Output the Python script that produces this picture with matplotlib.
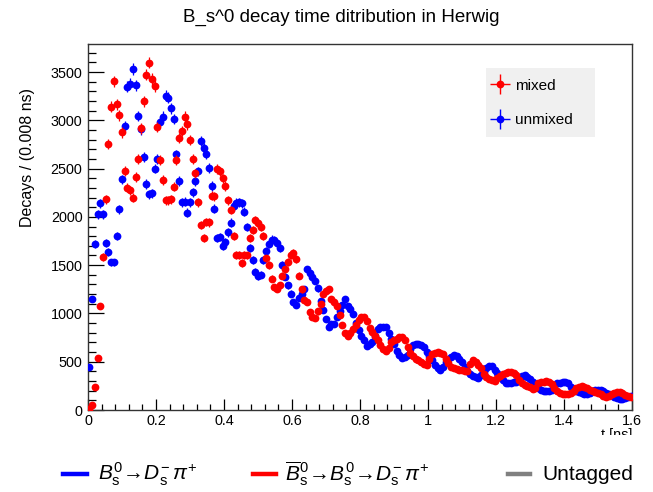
import numpy as np
import matplotlib
matplotlib.use("Agg")
import matplotlib.pyplot as plt
from matplotlib.lines import Line2D
from matplotlib.patches import Rectangle
from matplotlib.legend_handler import HandlerErrorbar

plt.rcParams['font.family'] = ['Liberation Sans', 'DejaVu Sans']
plt.rcParams['mathtext.fontset'] = 'custom'
plt.rcParams['mathtext.rm'] = 'Liberation Sans'
plt.rcParams['mathtext.it'] = 'Liberation Sans:italic'
plt.rcParams['mathtext.bf'] = 'Liberation Sans:bold'

# ---- data: decays per 0.008 ns bin, 200 bins from 0 to 1.6 ns ----
bin_width = 0.008
n_bins = 200

unmixed = [
    448, 1149, 1715, 2025, 2139, 2025, 1725, 1632, 1529, 1529,
    1804, 2077, 2388, 2942, 3346, 3380, 3529, 3364, 3043, 2905,
    2622, 2339, 2236, 2243, 2500, 2600, 2984, 3036, 3253, 3233,
    3125, 3015, 2646, 2370, 2150, 2156, 2042, 2150, 2255, 2370,
    2470, 2784, 2709, 2650, 2508, 2320, 2085, 1777, 1790, 1697,
    1740, 1839, 1939, 2111, 2146, 2150, 2140, 2052, 1897, 1673,
    1552, 1431, 1387, 1400, 1552, 1645, 1720, 1765, 1760, 1725,
    1680, 1500, 1380, 1290, 1205, 1121, 1090, 1160, 1200, 1250,
    1456, 1415, 1375, 1340, 1260, 1125, 1040, 940, 862, 888,
    895, 966, 1030, 1090, 1146, 1080, 1045, 990, 900, 828,
    770, 720, 662, 683, 707, 770, 835, 856, 862, 855,
    800, 740, 680, 610, 569, 535, 550, 570, 635, 670,
    688, 685, 670, 650, 605, 560, 520, 470, 440, 414,
    450, 500, 530, 552, 565, 560, 530, 495, 448, 405,
    372, 350, 338, 330, 360, 395, 430, 460, 455, 410,
    380, 350, 310, 278, 280, 283, 285, 288, 330, 350,
    360, 340, 322, 290, 255, 225, 210, 200, 192, 195,
    210, 250, 276, 282, 285, 292, 276, 240, 220, 200,
    185, 175, 170, 166, 180, 200, 207, 212, 210, 200,
    180, 165, 155, 135, 120, 113, 112, 125, 138, 150,
]

mixed = [
    15, 50, 241, 535, 1080, 1587, 2184, 2750, 3139, 3405,
    3164, 3053, 2874, 2474, 2301, 2277, 2197, 2415, 2598, 2916,
    3198, 3474, 3598, 3426, 3356, 2932, 2588, 2381, 2170, 2170,
    2180, 2311, 2588, 2819, 2888, 3036, 2957, 2795, 2598, 2450,
    2150, 1915, 1777, 1949, 1943, 2220, 2215, 2495, 2470, 2400,
    2320, 2174, 2070, 1800, 1604, 1604, 1520, 1604, 1600, 1777,
    1865, 1967, 1932, 1897, 1800, 1570, 1501, 1360, 1270, 1255,
    1294, 1390, 1456, 1530, 1604, 1628, 1560, 1390, 1250, 1140,
    1121, 1010, 960, 949, 1020, 1100, 1200, 1235, 1249, 1150,
    1115, 1075, 983, 880, 794, 765, 800, 840, 880, 931,
    960, 962, 920, 850, 810, 770, 720, 670, 630, 610,
    640, 700, 725, 740, 755, 760, 720, 650, 590, 560,
    530, 515, 495, 480, 470, 530, 575, 595, 605, 595,
    575, 530, 490, 450, 432, 422, 415, 410, 405, 400,
    480, 520, 500, 465, 430, 370, 340, 318, 308, 305,
    330, 355, 372, 380, 390, 390, 380, 358, 311, 275,
    255, 245, 235, 218, 230, 276, 288, 295, 300, 290,
    265, 224, 195, 175, 170, 166, 168, 180, 192, 225,
    241, 246, 240, 224, 210, 198, 190, 180, 165, 145,
    138, 150, 165, 180, 188, 185, 172, 160, 150, 135,
]

series_labels = ["mixed", "unmixed"]
series_colors = ["#ff0000", "#0000ff"]
title = "B_s^0 decay time ditribution in Herwig"
ylabel = "Decays / (0.008 ns)"
xlabel = "t [ns]"
bottom_labels = [r"$B^{0}_{\mathrm{s}}\!\rightarrow\! D^{-}_{\mathrm{s}}\,\pi^{+}$",
                 r"$\overline{B}^{0}_{\mathrm{s}}\!\rightarrow\! B^{0}_{\mathrm{s}}\!\rightarrow\! D^{-}_{\mathrm{s}}\,\pi^{+}$",
                 "Untagged"]
bottom_colors = ["#0000ff", "#ff0000", "#808080"]

# ---- figure ----
W, H = 653, 492
fig = plt.figure(figsize=(W / 100, H / 100), dpi=100)
L, R, T, B = 88, 632, 44, 410
ax = fig.add_axes([L / W, 1 - B / H, (R - L) / W, (B - T) / H])

t = (np.arange(n_bins) + 0.5) * bin_width
u = np.array(unmixed, dtype=float)
m = np.array(mixed, dtype=float)

ax.errorbar(t, u, yerr=np.sqrt(u), xerr=bin_width / 2, fmt='o', color=series_colors[1],
            ms=5.6, mew=0, elinewidth=0.9, capsize=1.2, capthick=0.9, zorder=3)
ax.errorbar(t, m, yerr=np.sqrt(m), xerr=bin_width / 2, fmt='o', color=series_colors[0],
            ms=5.6, mew=0, elinewidth=0.9, capsize=1.2, capthick=0.9, zorder=4)

ax.set_xlim(0, 1.6)
ax.set_ylim(0, 3790)
ax.set_xticks(np.arange(0, 1.61, 0.2))
ax.set_xticklabels(["0", "0.2", "0.4", "0.6", "0.8", "1", "1.2", "1.4", "1.6"])
ax.set_xticks(np.arange(0, 1.601, 0.04), minor=True)
ax.set_yticks(np.arange(0, 3501, 500))
ax.set_yticks(np.arange(0, 3790, 100), minor=True)
ax.tick_params(axis='both', which='both', direction='in', top=False, right=False,
               labelsize=10.4, width=0.9, color='black')
ax.tick_params(axis='y', which='major', length=11.5, pad=4)
ax.tick_params(axis='y', which='minor', length=5.8)
ax.tick_params(axis='x', which='major', length=7.9, pad=3)
ax.tick_params(axis='x', which='minor', length=4)
for s in ax.spines.values():
    s.set_linewidth(1.0)
    s.set_color('#333333')

# stats-like legend box
ax.add_patch(Rectangle((0.7316, 0.7459), 0.2004, 0.1885, transform=ax.transAxes,
                       facecolor='#f0f0f0', edgecolor='none', zorder=5))
hm = ax.errorbar([np.nan], [np.nan], xerr=[1], yerr=[1], fmt='o', color=series_colors[0],
                 ms=5.6, mew=0, elinewidth=1.0, capsize=0)
hu = ax.errorbar([np.nan], [np.nan], xerr=[1], yerr=[1], fmt='o', color=series_colors[1],
                 ms=5.6, mew=0, elinewidth=1.0, capsize=0)
leg = ax.legend([hm, hu], series_labels, loc='upper left', bbox_to_anchor=(0.737, 0.905),
                frameon=False, fontsize=11, handlelength=1.4, handletextpad=0.3,
                labelspacing=1.35, borderpad=0, borderaxespad=0,
                handler_map={type(hm): HandlerErrorbar(xerr_size=0.65)})
leg.set_zorder(6)

# titles
fig.text(341 / W, 1 - 17 / H, title, ha='center', va='center', fontsize=13.5)
fig.text(28 / W, 1 - 88 / H, ylabel, rotation=90, ha='center', va='top', fontsize=11.5)
fig.text(632 / W, 1 - 428 / H, xlabel, ha='right', va='top', fontsize=10.4)
# cover lower part of the x label (clipped in reference)
fig.add_artist(Rectangle((0, 0), 1, 1 - 435 / H, transform=fig.transFigure,
                         facecolor='white', edgecolor='none', zorder=10))

# bottom legend row
yl = 1 - 474 / H
line_x = [(63, 87), (253, 276), (508, 530)]
text_x = [98, 285, 542]
for (x0, x1), tx, lab, col in zip(line_x, text_x, bottom_labels, bottom_colors):
    ln = Line2D([x0 / W, x1 / W], [yl, yl], transform=fig.transFigure, color=col, lw=3.2,
                zorder=11)
    fig.add_artist(ln)
    fig.text(tx / W, yl, lab, ha='left', va='center', fontsize=15, zorder=12)

fig.savefig("out.png", dpi=100)
